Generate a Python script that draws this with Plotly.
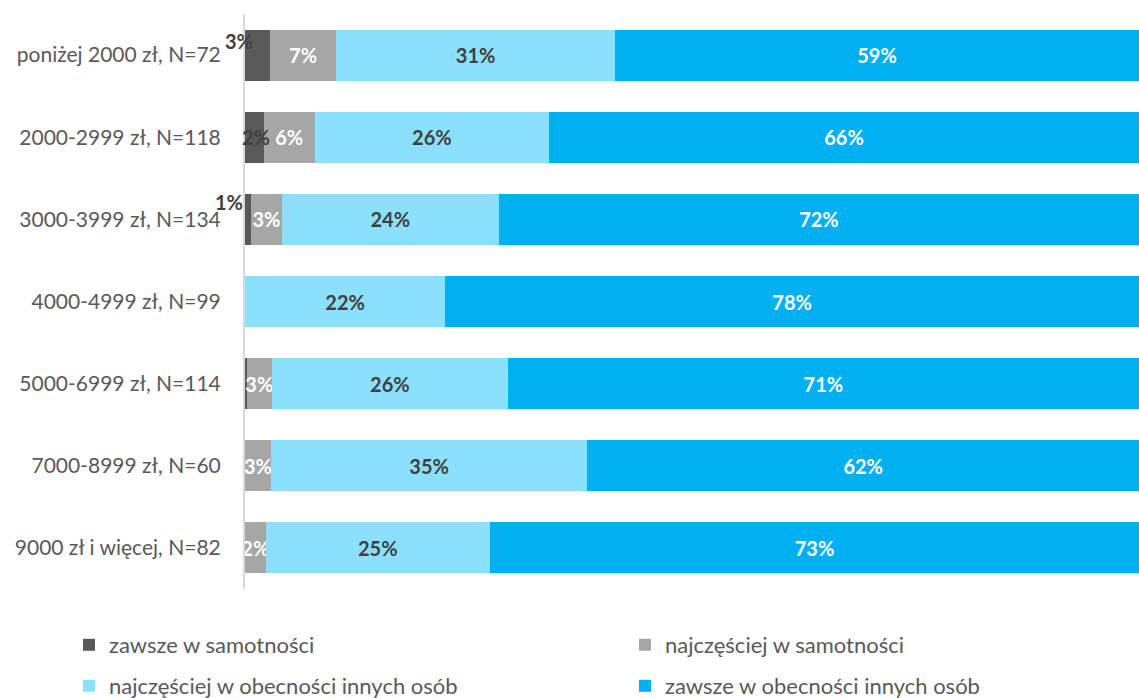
import plotly.graph_objects as go

categories = [
    "poniżej 2000 zł, N=72",
    "2000-2999 zł, N=118",
    "3000-3999 zł, N=134",
    "4000-4999 zł, N=99",
    "5000-6999 zł, N=114",
    "7000-8999 zł, N=60",
    "9000 zł i więcej, N=82",
]
series_names = [
    "zawsze w samotności",
    "najczęściej w samotności",
    "najczęściej w obecności innych osób",
    "zawsze w obecności innych osób",
]
always_alone = [2.8, 2.1, 0.7, 0.0, 0.2, 0.0, 0.0]
mostly_alone = [7.4, 5.7, 3.4, 0.0, 2.8, 2.9, 2.3]
mostly_others = [31.2, 26.2, 24.3, 22.4, 26.4, 35.4, 25.1]
always_others = [58.6, 66.0, 71.6, 77.6, 70.6, 61.7, 72.6]

colors = ["#595959", "#a6a6a6", "#8be0fd", "#00b0f0"]
text_colors = ["#404040", "#ffffff", "#404040", "#ffffff"]
FONT = "Lato"
FS = 20
W, H = 1139, 698


def labels(vals):
    return [f"{round(v)}%" if v >= 0.5 else "" for v in vals]


fig = go.Figure()
all_series = [always_alone, mostly_alone, mostly_others, always_others]
legend_ids = ["legend", "legend2", "legend3", "legend4"]
for i, (name, vals) in enumerate(zip(series_names, all_series)):
    fig.add_trace(go.Bar(
        y=categories, x=vals, name=name, orientation="h",
        marker=dict(color=colors[i], line=dict(width=0)),
        text=labels(vals) if i > 0 else None,
        textposition="inside", insidetextanchor="middle",
        textangle=0, constraintext="none",
        textfont=dict(family=FONT, size=FS, color=text_colors[i], weight="bold"),
        hoverinfo="skip",
        legend=legend_ids[i],
    ))

# labels for the narrow first series, placed beside the tiny segments
shifts = [(-19, 14), (2, 0), (-19, 17), (0, 0), (0, 0), (0, 0), (0, 0)]
for cat, v, (dx, dy) in zip(categories, always_alone, shifts):
    if v >= 0.5:
        fig.add_annotation(
            x=v / 2, y=cat, xref="x", yref="y", text=f"{round(v)}%",
            showarrow=False, xshift=dx, yshift=dy,
            font=dict(family=FONT, size=FS, color="#404040", weight="bold"),
        )


def legend_box(px, py):
    return dict(
        orientation="h", xref="container", yref="container",
        x=px / W, y=1 - py / H, xanchor="left", yanchor="middle",
        font=dict(family=FONT, size=22, color="#595959"),
        bgcolor="rgba(0,0,0,0)", borderwidth=0,
    )


fig.update_layout(
    barmode="stack",
    bargap=0.38,
    width=W, height=H,
    margin=dict(l=245, r=0, t=14, b=109, autoexpand=False),
    paper_bgcolor="white", plot_bgcolor="white",
    font=dict(family=FONT, size=FS, color="#595959"),
    showlegend=True,
    legend=legend_box(69, 645),
    legend2=legend_box(625, 645),
    legend3=legend_box(69, 686),
    legend4=legend_box(625, 686),
    xaxis=dict(range=[0, 100], showgrid=False, showticklabels=False,
               zeroline=False, showline=False, fixedrange=True),
    yaxis=dict(autorange="reversed", showgrid=False, ticks="",
               showline=True, linecolor="#d9d9d9", linewidth=2,
               ticklabelstandoff=18, automargin=False, fixedrange=True,
               tickfont=dict(family=FONT, size=21, color="#595959")),
)

fig.write_html("out.html", config={"displayModeBar": False},
               post_script="document.body.style.margin='0';")
